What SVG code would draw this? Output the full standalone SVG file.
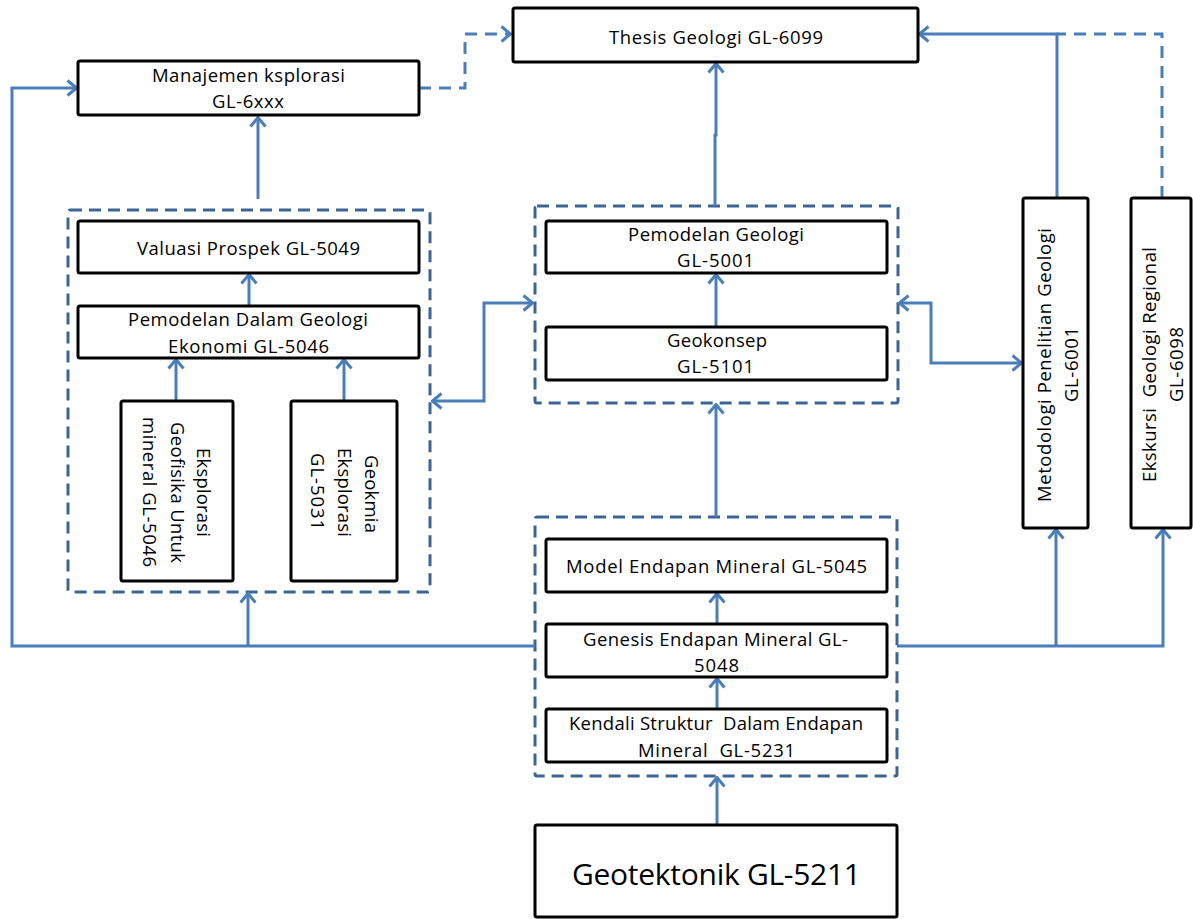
<svg xmlns="http://www.w3.org/2000/svg" width="1193" height="919" viewBox="0 0 1193 919">
<defs>
<style>
.box{fill:#fff;stroke:#000;stroke-width:3}
.grp{fill:none;stroke:#3C6494;stroke-width:3;stroke-dasharray:12 7}
.c{fill:none;stroke:#4A7EBB;stroke-width:3}
.cd{fill:none;stroke:#4A7EBB;stroke-width:3;stroke-dasharray:12 8}
text{font-family:"Open Sans","Liberation Sans",sans-serif;font-size:18.5px;fill:#000;text-anchor:middle}
.big{font-size:30px}
</style>
<marker id="arr" viewBox="0 0 12 18" refX="11" refY="9" markerWidth="12" markerHeight="18" orient="auto-start-reverse" markerUnits="userSpaceOnUse">
<path d="M1.5,1.5 L10.5,9 L1.5,16.5" fill="none" stroke="#4A7EBB" stroke-width="3"/>
</marker>
</defs>
<rect width="1193" height="919" fill="#fff"/>

<g id="groups">
<rect id="grp-left" class="grp" x="68" y="210" width="362" height="382" rx="2"/>
<rect id="grp-center-top" class="grp" x="535" y="206" width="363" height="197" rx="2"/>
<rect id="grp-center-bottom" class="grp" x="535" y="517" width="362" height="259" rx="2"/>
</g>

<g id="connectors">
<path class="cd" d="M419,88 H465 V34 H511" marker-end="url(#arr)"/>
<path class="c" d="M535,646 H12 V88 H77" marker-end="url(#arr)"/>
<path class="c" d="M248,646 V593" marker-end="url(#arr)"/>
<path class="c" d="M258,199 V117" marker-end="url(#arr)"/>
<path class="c" d="M249,306 V274" marker-end="url(#arr)"/>
<path class="c" d="M176,401 V359" marker-end="url(#arr)"/>
<path class="c" d="M344,401 V359" marker-end="url(#arr)"/>
<path class="c" d="M432,401 H484 V303 H533" marker-start="url(#arr)" marker-end="url(#arr)"/>
<path class="c" d="M715,206 V135 H716 V63" marker-end="url(#arr)"/>
<path class="c" d="M716,327 V274" marker-end="url(#arr)"/>
<path class="c" d="M716,517 V404" marker-end="url(#arr)"/>
<path class="c" d="M717,624 V593" marker-end="url(#arr)"/>
<path class="c" d="M717,709 V678" marker-end="url(#arr)"/>
<path class="c" d="M717,825 V777" marker-end="url(#arr)"/>
<path class="c" d="M899,303 H931 V363 H1022" marker-start="url(#arr)" marker-end="url(#arr)"/>
<path class="c" d="M897,646 H1163 V529" marker-end="url(#arr)"/>
<path class="c" d="M1056,646 V529" marker-end="url(#arr)"/>
<path class="c" d="M1057,198 V34 H919" marker-end="url(#arr)"/>
<path class="cd" d="M1162,198 V34 H1057"/>
</g>

<g id="n-thesis">
<rect class="box" x="513" y="8" width="405" height="54" rx="2"/>
<text x="716" y="44" textLength="214">Thesis Geologi GL-6099</text>
</g>
<g id="n-manajemen">
<rect class="box" x="78" y="61" width="341" height="54" rx="2"/>
<text x="248.5" y="82" textLength="193">Manajemen ksplorasi</text>
<text x="248" y="108" textLength="72">GL-6xxx</text>
</g>
<g id="n-valuasi">
<rect class="box" x="78" y="221" width="341" height="52" rx="2"/>
<text x="248.5" y="255" textLength="223">Valuasi Prospek GL-5049</text>
</g>
<g id="n-pemodelan-dalam">
<rect class="box" x="78" y="306" width="341" height="52" rx="2"/>
<text x="248" y="326" textLength="240">Pemodelan Dalam Geologi</text>
<text x="248.5" y="353" textLength="161">Ekonomi GL-5046</text>
</g>
<g id="n-eksplorasi-geofisika">
<rect class="box" x="121" y="401" width="112" height="180" rx="2"/>
<text transform="translate(197,492.5) rotate(90)" textLength="89">Eksplorasi</text>
<text transform="translate(171,492.5) rotate(90)" textLength="141">Geofisika Untuk</text>
<text transform="translate(143,492) rotate(90)" textLength="150">mineral GL-5046</text>
</g>
<g id="n-geokimia">
<rect class="box" x="291" y="401" width="106" height="180" rx="2"/>
<text transform="translate(365,494) rotate(90)" textLength="78">Geokmia</text>
<text transform="translate(338,492.5) rotate(90)" textLength="89">Eksplorasi</text>
<text transform="translate(311,491.5) rotate(90)" textLength="77">GL-5031</text>
</g>
<g id="n-pemodelan-geologi">
<rect class="box" x="546" y="221" width="341" height="52" rx="2"/>
<text x="716" y="241" textLength="176">Pemodelan Geologi</text>
<text x="715.5" y="267" textLength="77">GL-5001</text>
</g>
<g id="n-geokonsep">
<rect class="box" x="546" y="327" width="341" height="53" rx="2"/>
<text x="717" y="347" textLength="100">Geokonsep</text>
<text x="715.5" y="373" textLength="77">GL-5101</text>
</g>
<g id="n-model">
<rect class="box" x="546" y="539" width="341" height="53" rx="2"/>
<text x="716.5" y="573" textLength="301">Model Endapan Mineral GL-5045</text>
</g>
<g id="n-genesis">
<rect class="box" x="546" y="624" width="341" height="53" rx="2"/>
<text x="715.5" y="646" textLength="265">Genesis Endapan Mineral GL-</text>
<text x="716.5" y="672" textLength="45">5048</text>
</g>
<g id="n-kendali">
<rect class="box" x="546" y="709" width="341" height="53" rx="2"/>
<text x="716" y="730" textLength="294" xml:space="preserve">Kendali Struktur  Dalam Endapan</text>
<text x="716.5" y="757" textLength="157" xml:space="preserve">Mineral  GL-5231</text>
</g>
<g id="n-geotektonik">
<rect class="box" x="535" y="825" width="362" height="92" rx="2"/>
<text class="big" x="716.5" y="885" textLength="289">Geotektonik GL-5211</text>
</g>
<g id="n-metodologi">
<rect class="box" x="1023" y="198" width="65" height="330" rx="2"/>
<text transform="translate(1051,365) rotate(-90)" textLength="274">Metodologi Penelitian Geologi</text>
<text transform="translate(1078,364.5) rotate(-90)" textLength="75">GL-6001</text>
</g>
<g id="n-ekskursi">
<rect class="box" x="1131" y="198" width="60" height="330" rx="2"/>
<text transform="translate(1156,364.5) rotate(-90)" textLength="235" xml:space="preserve">Ekskursi  Geologi Regional</text>
<text transform="translate(1183,364.5) rotate(-90)" textLength="75">GL-6098</text>
</g>
</svg>
